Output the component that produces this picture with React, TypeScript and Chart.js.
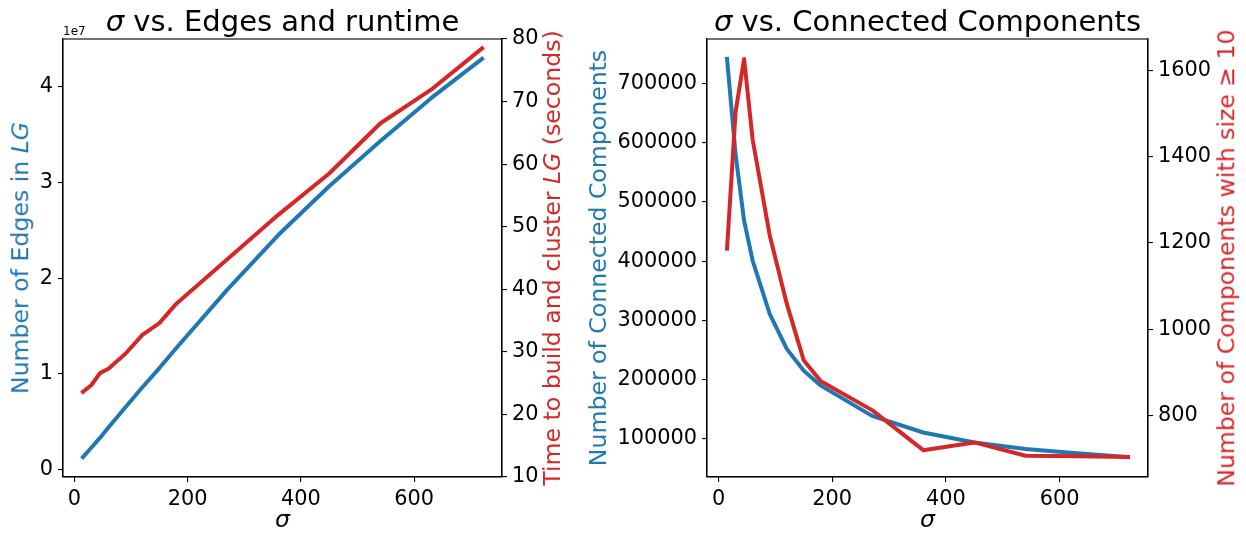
import React, { useEffect, useRef } from 'react';
import { Chart, registerables } from 'chart.js';

Chart.register(...registerables);

// ---- data ----
const sigma = [15, 30, 45, 60, 90, 120, 150, 180, 270, 360, 450, 540, 630, 720];
const edgesInLG = [1.3e6, 2.3e6, 3.3e6, 4.4e6, 6.5e6, 8.6e6, 1.06e7, 1.27e7, 1.88e7, 2.45e7, 2.96e7, 3.43e7, 3.88e7, 4.29e7];
const runtimeSeconds = [23.6, 24.7, 26.6, 27.3, 29.7, 32.7, 34.6, 37.7, 44.8, 51.9, 58.5, 66.5, 71.9, 78.5];
const connectedComponents = [741000, 580000, 468000, 401000, 311000, 252000, 215000, 190000, 139000, 111000, 94000, 83000, 76000, 69500];
const componentsSize10 = [1187, 1504, 1627, 1440, 1218, 1059, 927, 879, 812, 719, 737, 706, 705, 703];

const xTicks = [0, 200, 400, 600];
const edgesTicks = [0, 1e7, 2e7, 3e7, 4e7];
const runtimeTicks = [10, 20, 30, 40, 50, 60, 70, 80];
const runtimeLimits = [10, 80];
const ccTicks = [100000, 200000, 300000, 400000, 500000, 600000, 700000];
const bigTicks = [800, 1000, 1200, 1400, 1600];

const BLUE = '#1f77b4';
const RED = '#d62728';
const FONT = "'DejaVu Sans', sans-serif";
const TICK_PX = 20.83;
const LABEL_PX = 23.6;
const TITLE_PX = 29;

function padded(values: number[]): [number, number] {
  const lo = Math.min(...values);
  const hi = Math.max(...values);
  const m = (hi - lo) * 0.05;
  return [lo - m, hi + m];
}

function points(ys: number[]) {
  return sigma.map((s, i) => ({ x: s, y: ys[i] }));
}

function axis(position: string, lim: number[], ticks: number[], size: number, fmt?: (v: number) => string) {
  return {
    type: 'linear',
    position,
    min: lim[0],
    max: lim[1],
    afterBuildTicks: (s: any) => {
      s.ticks = ticks.map((v) => ({ value: v }));
    },
    afterFit: (s: any) => {
      if (position === 'bottom') s.height = size;
      else s.width = size;
      s.paddingTop = 0;
      s.paddingBottom = 0;
      s.paddingLeft = 0;
      s.paddingRight = 0;
    },
    grid: { drawOnChartArea: false, drawTicks: true, tickLength: 5, color: '#000', lineWidth: 1.1 },
    border: { display: true, color: '#000', width: 1.1 },
    ticks: {
      color: '#000',
      font: { family: FONT, size: TICK_PX },
      padding: 5,
      maxRotation: 0,
      minRotation: 0,
      autoSkip: false,
      callback: (v: any) => (fmt ? fmt(Number(v)) : String(v)),
    },
  };
}

const framePlugin = {
  id: 'frame',
  afterDraw(chart: any) {
    const { ctx, chartArea: a } = chart;
    ctx.save();
    ctx.strokeStyle = '#000';
    ctx.lineWidth = 1.1;
    ctx.strokeRect(a.left, a.top, a.right - a.left, a.bottom - a.top);
    ctx.restore();
  },
};

function line(data: number[], color: string, axisId: string, order: number) {
  return {
    data: points(data),
    yAxisID: axisId,
    borderColor: color,
    backgroundColor: color,
    borderWidth: 4,
    pointRadius: 0,
    tension: 0,
    borderJoinStyle: 'round',
    borderCapStyle: 'square',
    order,
  };
}

function ChartCanvas({ left, width, datasets, scales }: any) {
  const ref = useRef<HTMLCanvasElement>(null);
  useEffect(() => {
    const cfg: any = {
      type: 'line',
      data: { datasets },
      options: {
        responsive: false,
        animation: false,
        devicePixelRatio: 1,
        layout: { padding: { top: 39, left: 0, right: 0, bottom: 0 } },
        plugins: { legend: { display: false }, tooltip: { enabled: false }, title: { display: false } },
        scales,
      },
      plugins: [framePlugin],
    };
    const chart = new Chart(ref.current as HTMLCanvasElement, cfg);
    return () => chart.destroy();
  }, []);
  return (
    <canvas
      ref={ref}
      width={width}
      height={533}
      style={{ position: 'absolute', left, top: 0, width, height: 533 }}
    />
  );
}

function VLabel({ cx, cy, color, children }: any) {
  return (
    <div
      style={{
        position: 'absolute',
        left: cx,
        top: cy,
        transform: 'translate(-50%, -50%) rotate(-90deg)',
        font: `${LABEL_PX}px ${FONT}`,
        lineHeight: `${LABEL_PX}px`,
        color,
        whiteSpace: 'nowrap',
      }}
    >
      {children}
    </div>
  );
}

function Title({ cx, children }: any) {
  return (
    <div
      style={{
        position: 'absolute',
        left: cx,
        top: 31.5 - 0.846 * TITLE_PX,
        transform: 'translateX(-50%)',
        font: `${TITLE_PX}px ${FONT}`,
        lineHeight: `${TITLE_PX}px`,
        color: '#000',
        whiteSpace: 'nowrap',
      }}
    >
      {children}
    </div>
  );
}

function XLabel({ cx }: any) {
  return (
    <div
      style={{
        position: 'absolute',
        left: cx,
        top: 528 - 0.846 * LABEL_PX,
        transform: 'translateX(-50%)',
        font: `italic ${LABEL_PX}px ${FONT}`,
        lineHeight: `${LABEL_PX}px`,
        color: '#000',
      }}
    >
      σ
    </div>
  );
}

export default function App() {
  const xLim = padded(sigma);
  const leftScales = {
    x: axis('bottom', xLim, xTicks, 56),
    yL: axis('left', padded(edgesInLG), edgesTicks, 63, (v) => String(Math.round(v / 1e7))),
    yR: axis('right', runtimeLimits, runtimeTicks, 98),
  };
  const leftData = [line(runtimeSeconds, RED, 'yR', 0), line(edgesInLG, BLUE, 'yL', 1)];

  const rightScales = {
    x: axis('bottom', xLim, xTicks, 56),
    yL: axis('left', padded(connectedComponents), ccTicks, 107),
    yR: axis('right', padded(componentsSize10), bigTicks, 98),
  };
  const rightData = [line(componentsSize10, RED, 'yR', 0), line(connectedComponents, BLUE, 'yL', 1)];

  return (
    <div
      style={{
        position: 'fixed',
        left: 0,
        top: 0,
        width: 1246,
        height: 533,
        overflow: 'hidden',
        background: '#fff',
      }}
    >
      <ChartCanvas left={0} width={600} datasets={leftData} scales={leftScales} />
      <ChartCanvas left={600} width={646} datasets={rightData} scales={rightScales} />

      <Title cx={282.5}>
        <i>σ</i> vs. Edges and runtime
      </Title>
      <Title cx={927.5}>
        <i>σ</i> vs. Connected Components
      </Title>

      <div
        style={{
          position: 'absolute',
          left: 63,
          top: 35 - 0.846 * 12,
          font: `12px ${FONT}`,
          lineHeight: '12px',
          color: '#000',
        }}
      >
        1e7
      </div>

      <VLabel cx={21.3} cy={258} color={BLUE}>
        Number of Edges in <i>LG</i>
      </VLabel>
      <VLabel cx={552.8} cy={258} color={RED}>
        Time to build and cluster <i>LG</i> (seconds)
      </VLabel>
      <VLabel cx={598.8} cy={258} color={BLUE}>
        Number of Connected Components
      </VLabel>
      <VLabel cx={1226.8} cy={258} color={RED}>
        Number of Components with size ≥ 10
      </VLabel>

      <XLabel cx={282.5} />
      <XLabel cx={927.5} />
    </div>
  );
}
